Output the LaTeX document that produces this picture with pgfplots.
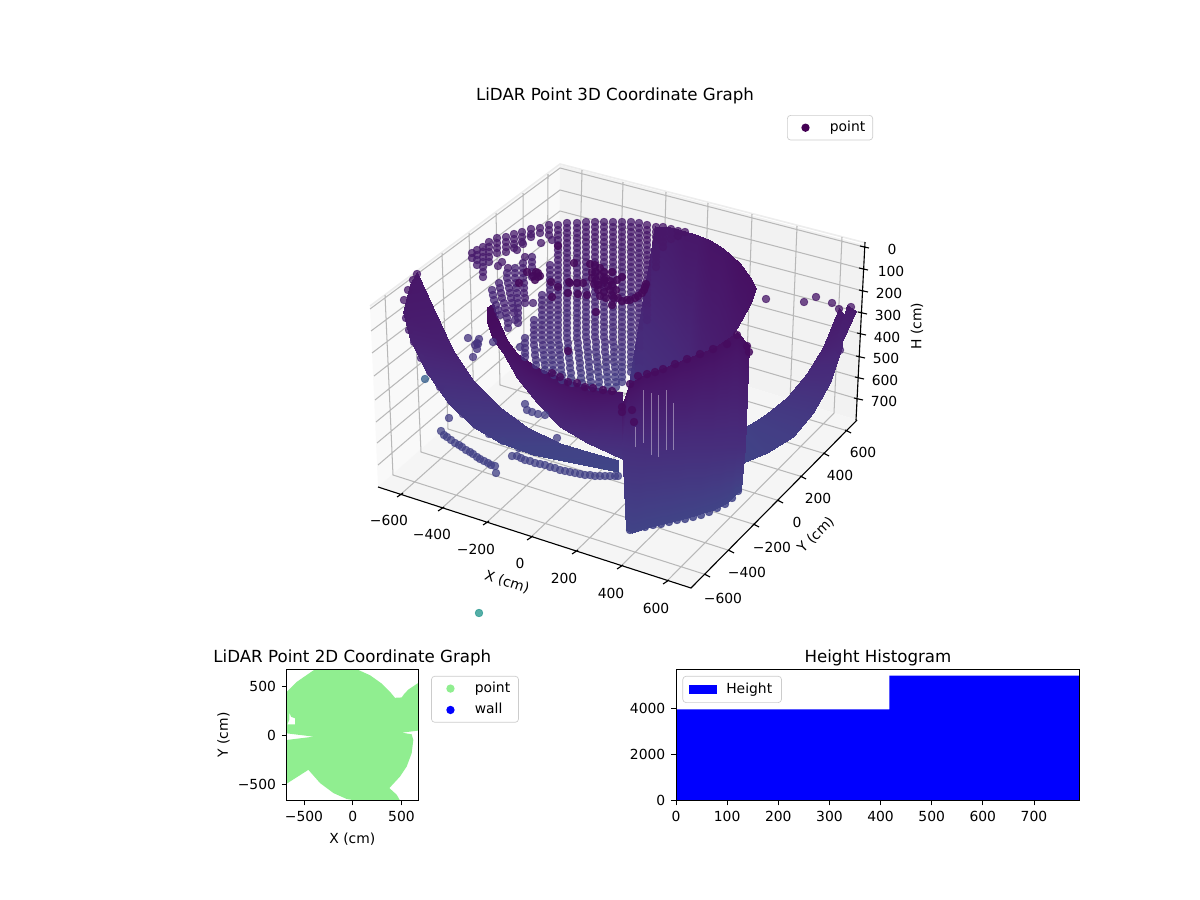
\documentclass[border=0pt]{standalone}
\usepackage{pgfplots}
\pgfplotsset{compat=1.18}
\usepackage{fontspec}
\setmainfont{DejaVu Sans}
\newcommand{\fs}{\fontsize{8.33pt}{10pt}\selectfont}
\newcommand{\fst}{\fontsize{10pt}{12pt}\selectfont}
\definecolor{gridc}{HTML}{B8B8B8}
\definecolor{legc}{HTML}{CCCCCC}
\definecolor{lgreen}{RGB}{144,238,144}
\definecolor{vir0}{RGB}{68,1,84}
\tikzset{lab/.style={font=\fs, inner sep=0pt}}
\pgfplotsset{
 beads/.style={forget plot, scatter, only marks, mark=*, mark size=2.3pt, scatter src=explicit,
   scatter/use mapped color={draw=mapped color, fill=mapped color, draw opacity=#1, fill opacity=#1}},
 beads/.default=0.76,
 band/.style={forget plot, patch, patch type=rectangle, shader=interp, point meta=explicit},
 frame/.style={forget plot, no marks, unbounded coords=jump, line width=#1},
 legmark/.style={legend image code/.code={\path[draw=none] (0pt,0pt)--(21pt,0pt);\fill[#1, draw=none] (8.4pt,0pt) circle (2.5pt);}}
}
\begin{document}
\begin{tikzpicture}
\path[use as bounding box] (0,0) rectangle (720pt,540pt);
\begin{axis}[name=main, at={(0,0)}, anchor=south west, width=720pt, height=540pt, scale only axis,
  xmin=0, xmax=1200, ymin=0, ymax=900, y dir=reverse, hide axis, clip=false,
  colormap/viridis, point meta min=0, point meta max=100,
  legend style={at={(axis cs:787,115)}, anchor=north west, draw=legc, rounded corners=2pt, font=\fs,
    inner xsep=2.5pt, inner ysep=1.5pt, legend cell align=left}]
% panes
\addplot[forget plot, fill=black!2.5, draw=none] coordinates {(370,307)(560,165)(558,328)(378,487)};
\addplot[forget plot, fill=black!5, draw=none] coordinates {(560,165)(865,245)(857,420)(558,328)};
\addplot[forget plot, fill=black!3.8, draw=none] coordinates {(378,487)(558,328)(857,420)(691,588)};
\addplot[forget plot, no marks, color=black!7, line width=1pt] coordinates {(370,306)(560,164)(866,243)};
% grid
\addplot[frame=0.62pt, color=gridc] coordinates {
(582,170)(578,336)(400,495)(nan,nan)
(623,182)(618,349)(441,509)(nan,nan)
(666,192)(661,361)(486,523)(nan,nan)
(708,203)(702,374)(530,538)(nan,nan)
(752,214)(746,387)(575,552)(nan,nan)
(797,226)(790,400)(620,567)(nan,nan)
(842,237)(834,413)(666,582)(nan,nan)
(385,295)(393,475)(707,575)(nan,nan)
(413,274)(421,452)(731,551)(nan,nan)
(442,253)(448,429)(756,525)(nan,nan)
(469,233)(474,406)(780,501)(nan,nan)
(496,213)(500,385)(803,477)(nan,nan)
(523,193)(524,363)(826,454)(nan,nan)
(548,174)(547,342)(848,431)(nan,nan)
(370,309)(560,168)(864,247)(nan,nan)
(371,331)(560,190)(863,269)(nan,nan)
(372,353)(560,211)(863,291)(nan,nan)
(374,376)(559,232)(862,313)(nan,nan)
(375,400)(559,252)(861,334)(nan,nan)
(376,422)(558,272)(860,357)(nan,nan)
(377,443)(558,292)(859,378)(nan,nan)
(378,465)(558,311)(858,399)
};
% axis lines and ticks
\addplot[frame=0.67pt, color=black] coordinates {
(378,487)(691,588)(857,420)(nan,nan)(865,242)(856,420)(nan,nan)
(397,497)(403,493)(nan,nan)(438,511)(444,507)(nan,nan)(483,525)(489,521)(nan,nan)(527,540)(533,536)(nan,nan)(572,554)(578,550)(nan,nan)(617,569)(623,565)(nan,nan)(663,584)(669,580)(nan,nan)
(704,574)(710,577)(nan,nan)(728,550)(734,553)(nan,nan)(753,524)(759,527)(nan,nan)(777,500)(783,503)(nan,nan)(800,476)(806,479)(nan,nan)(823,453)(829,456)(nan,nan)(845,430)(851,433)(nan,nan)
(860,246)(869,248)(nan,nan)(859,268)(868,270)(nan,nan)(859,290)(868,292)(nan,nan)(858,312)(867,314)(nan,nan)(857,333)(866,335)(nan,nan)(856,356)(865,358)(nan,nan)(855,377)(864,379)(nan,nan)(854,398)(863,400)
};
% tick labels
\node[lab] at (axis cs:389,520) {−600};\node[lab] at (axis cs:432,534) {−400};\node[lab] at (axis cs:476,549) {−200};
\node[lab] at (axis cs:520,563) {0};\node[lab] at (axis cs:564,578) {200};\node[lab] at (axis cs:611,593) {400};\node[lab] at (axis cs:656,608) {600};
\node[lab] at (axis cs:723,598) {−600};\node[lab] at (axis cs:747,572) {−400};\node[lab] at (axis cs:772,547) {−200};
\node[lab] at (axis cs:797,522) {0};\node[lab] at (axis cs:818,498) {200};\node[lab] at (axis cs:840,475) {400};\node[lab] at (axis cs:863,452) {600};
\node[lab] at (axis cs:892,249) {0};\node[lab] at (axis cs:891,271) {100};\node[lab] at (axis cs:889,293) {200};\node[lab] at (axis cs:888,315) {300};
\node[lab] at (axis cs:887,337) {400};\node[lab] at (axis cs:886,358) {500};\node[lab] at (axis cs:885,380) {600};\node[lab] at (axis cs:884,401) {700};
\node[lab, rotate=-18] at (axis cs:507,582) {X (cm)};
\node[lab, rotate=45] at (axis cs:816,535) {Y (cm)};
\node[lab, rotate=90] at (axis cs:917,326) {H (cm)};
\node[font=\fst, inner sep=0pt] at (axis cs:615,96) {LiDAR Point 3D Coordinate Graph};
% outer arcs (dense point bands)
\addplot[band] table[meta=c] {
x y c
417 272 6
433 307 7
403 312 7
410 284 6
433 307 7
453 350 9
410 340 9
403 312 7
453 350 9
473 380 12
427 373 12
410 340 9
473 380 12
500 407 15
448 403 15
427 373 12
500 407 15
527 427 17
473 427 17
448 403 15
527 427 17
560 443 19
500 443 19
473 427 17
560 443 19
590 452 20
533 455 20
500 443 19
590 452 20
618 460 20
618 472 21
533 455 20
839 308 7
823 347 9
842 347 10
843 313 7
823 347 9
807 373 12
830 383 13
842 347 10
807 373 12
787 397 15
813 413 16
830 383 13
787 397 15
767 413 17
793 437 18
813 413 16
767 413 17
755 421 18
767 453 19
793 437 18
755 421 18
743 428 19
743 463 20
767 453 19
847 305 7
838 335 9
843 340 9
856 311 7
};
% scattered points and lower arcs
\addplot[beads] table[meta=c] {
x y c
479 613 52
425 379 30
449 418 18
468 338 15
477 343 15
475 345 15
479 339 15
478 344 15
477 349 15
473 357 15
493 342 15
520 347 15
525 404 18
527 410 18
532 412 18
538 414 18
545 415 18
557 438 18
496 473 19
441 431 19
444 435 19
447 437 19
451 440 19
455 443 19
459 445 19
462 447 19
466 450 19
470 452 19
473 454 19
477 457 19
480 459 19
484 461 19
488 463 19
491 465 19
495 466 19
512 456 19
517 456 19
521 458 19
525 460 19
530 461 19
535 463 19
540 464 19
545 465 19
550 467 19
555 468 19
560 470 19
565 471 19
570 472 19
575 473 19
580 474 19
585 475 19
590 475 19
595 476 19
600 476 19
605 476 19
610 476 19
615 476 19
618 476 19
766 299 6
804 302 6
816 297 6
832 303 6
851 307 6
839 309 6
417 274 6
413 280 6
408 290 6
404 300 6
406 318 7
409 330 8
414 342 9
421 358 11
430 372 12
440 387 13
451 401 15
463 414 16
476 425 17
489 434 18
503 441 19
519 448 20
840 350 10
828 380 13
811 410 16
790 434 18
765 450 19
};
% cylinder, solid right part
\addplot[band] table[meta=c] {
x y c
655 226 7
670 227 7
675 364 12
628 388 15
670 227 7
685 231 6
687 359 11
675 364 12
685 231 6
698 235 6
700 354 9
687 359 11
698 235 6
710 240 5
713 349 8
700 354 9
710 240 5
723 248 5
727 343 7
713 349 8
723 248 5
740 263 4
737 328 6
727 343 7
740 263 4
750 277 4
746 312 5
737 328 6
750 277 4
756 288 4
752 300 5
746 312 5
};
% back columns
\addplot[beads] table[meta=c] {
x y c
472 253 7
472 258 7
477 250 7
477 255 7
477 260 8
477 265 8
483 247 7
483 252 7
483 257 7
483 262 8
483 267 8
483 272 8
483 277 8
489 242 7
489 247 7
489 252 7
489 257 7
489 262 8
497 238 7
497 243 7
497 248 7
497 253 7
506 237 7
506 242 7
506 247 7
506 252 7
514 234 7
514 239 7
514 244 7
514 248 7
522 232 7
522 237 7
522 242 7
531 229 7
531 234 7
531 237 7
540 228 7
540 233 7
549 225 7
549 230 7
549 235 7
541 243 7
552 240 7
517 250 7
523 244 7
525 257 7
502 262 7
498 266 7
508 268 7
533 303 9
532 257 9
532 262 9
532 267 9
532 272 9
532 277 9
523 263 9
523 268 9
523 273 9
523 278 9
524 283 9
524 288 9
524 293 9
525 298 9
525 303 9
515 268 10
515 273 10
515 278 10
516 283 10
516 288 10
517 293 10
517 298 10
518 303 10
518 308 10
518 313 10
518 318 11
518 323 11
507 273 10
507 278 10
508 283 10
509 288 10
510 293 10
511 298 10
512 303 10
513 308 10
514 313 10
515 320 11
499 283 10
500 288 10
501 293 10
502 298 10
504 303 10
505 308 10
506 313 10
507 318 11
508 323 11
508 328 11
492 290 11
493 295 11
494 300 11
496 305 11
498 310 11
500 315 11
525 338 14
525 343 14
525 348 14
525 353 14
525 357 14
534 320 12
534 325 12
534 330 12
534 335 12
534 340 13
534 345 13
535 350 14
535 355 14
536 360 14
536 365 15
542 295 11
542 300 11
542 305 11
542 310 11
542 315 12
542 320 12
542 325 12
542 330 12
542 335 12
542 340 13
543 345 13
543 350 14
544 355 14
544 360 15
545 365 15
545 370 16
550 265 9
550 270 9
550 275 9
550 280 10
550 285 10
550 290 10
550 295 10
550 300 11
550 305 11
550 310 11
550 315 12
550 320 12
550 325 12
550 330 12
550 335 13
550 340 13
551 345 14
551 350 14
552 355 14
552 360 15
553 365 15
553 370 16
554 375 16
558 225 7
558 230 7
558 235 7
558 240 7
558 245 7
558 250 8
558 255 8
558 260 8
558 265 9
558 270 9
558 275 9
558 280 9
558 285 10
558 290 10
558 295 10
558 300 11
558 305 11
558 310 11
558 315 12
558 320 12
558 325 12
558 330 12
558 335 13
558 340 13
559 345 14
559 350 14
560 355 14
560 360 15
561 365 15
561 370 16
562 375 16
562 380 17
567 223 7
567 228 7
567 233 7
567 238 7
567 243 7
567 248 8
567 253 8
567 258 8
567 263 8
567 268 9
567 273 9
567 278 9
567 283 9
567 288 10
567 293 10
567 298 10
567 303 11
567 308 11
567 313 12
567 318 12
567 323 12
567 328 12
567 333 13
567 338 13
568 343 13
568 348 14
569 353 14
569 358 15
570 363 15
570 368 16
571 373 16
571 378 17
572 383 17
577 223 7
577 228 7
577 233 7
577 238 7
577 243 7
577 248 8
577 253 8
577 258 8
577 263 8
577 268 9
577 273 9
577 278 9
577 283 9
577 288 10
577 293 10
577 298 10
577 303 11
577 308 11
577 313 12
577 318 12
577 323 12
577 328 12
577 333 13
577 338 13
578 343 13
578 348 14
579 353 14
579 358 15
580 363 15
580 368 16
581 373 16
581 378 17
582 383 17
586 222 7
586 227 7
586 232 7
586 237 7
586 242 7
586 247 8
586 252 8
586 257 8
586 262 8
586 267 9
586 272 9
586 277 9
586 282 9
586 287 10
586 292 10
586 297 10
586 302 11
586 307 11
586 312 12
586 317 12
586 322 12
586 327 12
586 332 13
586 337 13
587 342 13
587 347 14
588 352 14
588 357 15
589 362 15
589 367 16
590 372 16
590 377 17
591 382 17
591 387 18
595 222 7
595 227 7
595 232 7
595 237 7
595 242 7
595 247 8
595 252 8
595 257 8
595 262 8
595 267 9
595 272 9
595 277 9
595 282 9
595 287 10
595 292 10
595 297 10
595 302 11
595 307 11
595 312 12
595 317 12
595 322 12
595 327 12
595 332 13
595 337 13
596 342 13
596 347 14
596 352 14
597 357 15
597 362 15
598 367 16
598 372 16
599 377 17
599 382 17
599 387 18
604 222 7
604 227 7
604 232 7
604 237 7
604 242 7
604 247 8
604 252 8
604 257 8
604 262 8
604 267 9
604 272 9
604 277 9
604 282 9
604 287 10
604 292 10
604 297 10
604 302 11
604 307 11
604 312 12
604 317 12
604 322 12
604 327 12
604 332 13
604 337 13
605 342 13
605 347 14
605 352 14
606 357 15
606 362 15
606 367 16
607 372 16
607 377 17
608 382 17
608 387 18
613 222 7
613 227 7
613 232 7
613 237 7
613 242 7
613 247 8
613 252 8
613 257 8
613 262 8
613 267 9
613 272 9
613 277 9
613 282 9
613 287 10
613 292 10
613 297 10
613 302 11
613 307 11
613 312 12
613 317 12
613 322 12
613 327 12
613 332 13
613 337 13
613 342 13
614 347 14
614 352 14
614 357 15
614 362 15
615 367 16
615 372 16
615 377 17
616 382 17
616 387 18
622 222 7
622 227 7
622 232 7
622 237 7
622 242 7
622 247 8
622 252 8
622 257 8
622 262 8
622 267 9
622 272 9
622 277 9
622 282 9
622 287 10
622 292 10
622 297 10
622 302 11
622 307 11
622 312 12
622 317 12
622 322 12
622 327 12
622 332 13
622 337 13
622 342 13
622 347 14
622 352 14
622 357 15
622 362 15
622 367 16
622 372 16
622 377 17
622 382 17
631 222 7
631 227 7
631 232 7
631 237 7
631 242 7
631 247 7
631 252 8
631 257 8
631 262 8
631 267 8
631 272 9
631 277 9
631 282 9
631 287 9
631 292 10
631 297 10
631 302 11
631 307 11
631 312 12
631 317 12
631 322 12
631 327 12
631 332 13
631 337 13
631 342 13
631 347 14
631 352 14
631 357 14
631 362 15
631 367 15
631 372 16
639 223 7
639 228 7
639 233 7
639 238 7
639 243 7
639 248 8
639 253 8
639 258 8
639 263 8
639 268 8
639 273 8
639 278 8
639 283 9
639 288 9
639 293 9
639 298 10
639 303 10
639 308 10
639 313 11
639 318 11
639 323 11
639 328 11
639 333 12
639 338 12
639 343 12
639 348 12
639 353 13
639 358 13
639 363 13
639 368 14
639 373 14
647 225 6
647 230 6
647 235 6
647 240 6
647 245 7
647 250 7
647 255 7
647 260 7
647 265 7
647 270 8
647 275 8
647 280 8
647 285 8
647 290 9
647 295 9
647 300 9
647 305 9
647 310 10
647 315 10
647 320 10
656 227 6
656 232 6
656 237 6
656 242 6
656 247 7
656 252 7
656 257 7
656 262 7
656 267 7
663 227 6
663 232 6
663 237 6
663 242 6
663 247 6
671 229 6
671 234 6
671 239 6
678 231 5
678 236 5
685 232 5
};
% rim band
\addplot[band] table[meta=c] {
x y c
493 303 3
497 317 3
487 322 3
487 307 3
497 317 3
507 340 4
493 340 4
487 322 3
507 340 4
517 353 4
503 353 5
493 340 4
517 353 4
537 367 4
517 378 7
503 353 5
537 367 4
550 373 4
537 403 9
517 378 7
550 373 4
567 380 4
560 427 11
537 403 9
567 380 4
593 387 4
587 443 13
560 427 11
593 387 4
622 392 5
622 459 15
587 443 13
};
% front block
\addplot[band] table[meta=c] {
x y c
622 405 4
630 383 4
630 447 13
622 445 13
630 383 4
647 373 4
647 449 13
630 447 13
647 373 4
663 368 4
663 449 13
647 449 13
663 368 4
687 358 4
687 448 13
663 449 13
687 358 4
713 348 4
713 448 13
687 448 13
713 348 4
727 339 4
727 447 13
713 448 13
727 339 4
737 332 4
737 447 13
727 447 13
737 332 4
749 345 4
745 447 13
737 447 13
622 445 13
630 447 13
632 533 20
626 530 20
630 447 13
647 449 13
647 528 20
632 533 20
647 449 13
663 449 13
663 524 20
647 528 20
663 449 13
687 448 13
687 518 20
663 524 20
687 448 13
713 448 13
713 510 20
687 518 20
713 448 13
727 447 13
727 503 20
713 510 20
727 447 13
737 447 13
735 495 20
727 503 20
737 447 13
745 447 13
741 490 20
735 495 20
};
% thin gaps between the front columns
\addplot[frame=0.4pt, color=white, opacity=0.4] coordinates {
(635,427)(635,447)(nan,nan)(643,390)(643,443)(nan,nan)(651,393)(651,455)(nan,nan)(658,395)(658,457)(nan,nan)(666,390)(666,450)(nan,nan)(673,403)(673,450)
};
% edge points of rim and block, dark cluster
\addplot[beads=0.85] table[meta=c] {
x y c
552 373 3
560 377 3
568 382 3
577 383 3
585 387 3
593 388 3
603 390 3
612 391 3
622 407 3
622 412 3
630 384 3
638 376 3
647 374 3
655 372 3
663 369 3
675 364 3
687 359 3
700 354 3
713 349 3
727 344 3
737 335 3
747 346 3
749 352 3
630 530 20
637 528 20
645 527 20
653 525 20
661 524 20
669 522 20
677 520 20
685 519 20
693 517 20
701 515 20
709 512 20
717 508 20
725 504 20
732 498 20
738 491 20
632 410 3
634 422 3
645 287 2
642 293 2
635 298 2
627 300 2
618 298 2
612 295 2
622 277 2
617 280 2
574 263 2
590 264 2
595 265 2
600 268 2
604 272 2
600 276 2
606 278 2
612 272 2
596 280 2
602 284 2
608 286 2
598 290 2
604 292 2
610 290 2
606 298 2
612 305 2
596 312 2
592 272 2
596 272 2
592 278 2
598 285 2
604 280 2
610 281 2
612 285 2
616 290 2
600 296 2
594 284 2
614 298 2
622 301 2
630 300 2
638 296 2
644 290 2
646 284 2
570 283 2
577 283 2
583 283 2
568 293 2
578 294 2
587 295 2
533 276 2
540 276 2
536 272 2
538 277 2
535 280 2
538 273 2
519 283 2
527 272 2
551 282 2
558 287 2
552 297 2
569 282 2
558 246 2
568 351 2
};
\addlegendimage{legmark=vir0}
\addlegendentry{point}
\end{axis}
% 2D plot
\begin{axis}[at={(172pt,59.6pt)}, anchor=south west, width=78.8pt, height=78.8pt, scale only axis,
  xmin=-678, xmax=670, ymin=-670, ymax=676, axis on top,
  xtick={-500,0,500}, xticklabels={−500,0,500}, ytick={-500,0,500}, yticklabels={−500,0,500},
  tick align=outside, major tick length=2.9pt, tick style={black, line width=0.5pt}, xtick pos=bottom, ytick pos=left,
  axis line style={line width=0.6pt}, tick label style={font=\fs}, label style={font=\fs},
  xlabel={X (cm)}, ylabel={Y (cm)}, ylabel style={yshift=-2pt}, title={LiDAR Point 2D Coordinate Graph}, title style={font=\fst, yshift=-7.7pt},
  legend style={at={(1.1,0.95)}, anchor=north west, draw=legc, rounded corners=2pt, font=\fs, inner xsep=3pt, inner ysep=1.5pt, row sep=1pt, legend cell align=left}]
\addplot[fill=lgreen, draw=none, forget plot] coordinates {
(-386,677)(41,677)(178,615)(298,530)(383,445)(434,384)(503,388)(527,422)(571,469)(674,537)(674,48)(503,27)(605,10)(622,-48)(605,-184)(554,-320)(486,-422)(376,-541)(451,-609)(486,-670)(298,-670)(41,-670)(-62,-653)(-198,-592)(-335,-490)(-455,-354)(-678,-496)(-678,-48)(-400,-14)(-678,20)(-678,113)(-671,113)(-592,113)(-592,174)(-633,190)(-651,236)(-651,158)(-671,113)(-678,113)(-678,445)(-575,547)};
\addlegendimage{legmark=lgreen}
\addlegendentry{point}
\addlegendimage{legmark=blue}
\addlegendentry{wall}
\end{axis}
% histogram
\begin{axis}[at={(405.6pt,59.6pt)}, anchor=south west, width=242.4pt, height=78.8pt, scale only axis,
  xmin=0, xmax=790, ymin=0, ymax=5680,
  xtick={0,100,...,700}, ytick={0,2000,4000}, yticklabels={0,2000,4000},
  tick align=outside, major tick length=2.9pt, tick style={black, line width=0.5pt}, xtick pos=bottom, ytick pos=left,
  axis line style={line width=0.6pt}, tick label style={font=\fs, /pgf/number format/assume math mode=true},
  title={Height Histogram}, title style={font=\fst, yshift=-7.7pt}, axis on top,
  legend style={at={(0.016,0.95)}, anchor=north west, draw=legc, rounded corners=2pt, font=\fs, inner xsep=3.6pt, inner ysep=2pt, legend cell align=left}]
\addplot[forget plot, ybar interval, fill=blue, draw=none] coordinates {(0,3950)(417,5410)(790,5410)};
\addlegendimage{legend image code/.code={\path[draw=none] (0pt,0pt)--(20.5pt,0pt);\fill[blue, sharp corners, draw=none] (0pt,-2.7pt) rectangle (17pt,2.7pt);}}
\addlegendentry{Height}
\end{axis}
\end{tikzpicture}
\end{document}
